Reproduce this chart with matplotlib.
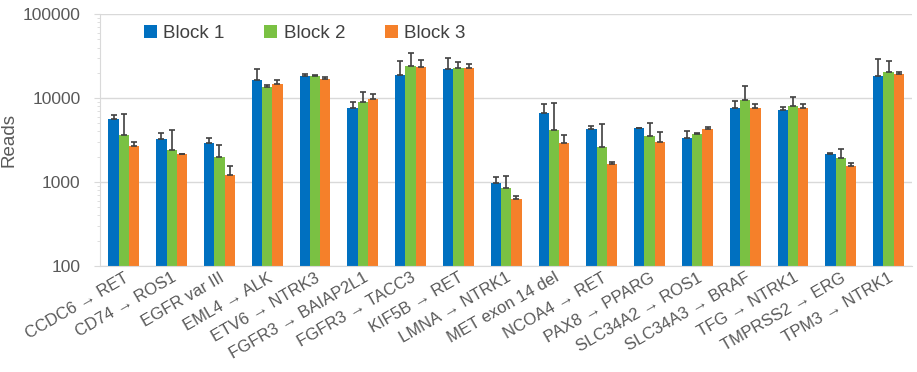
import numpy as np
import matplotlib
matplotlib.use("Agg")
import matplotlib.pyplot as plt

plt.rcParams['font.family'] = ['Liberation Sans', 'DejaVu Sans']

# fusion / variant names
categories = ['CCDC6 → RET', 'CD74 → ROS1', 'EGFR var III', 'EML4 → ALK', 'ETV6 → NTRK3',
              'FGFR3 → BAIAP2L1', 'FGFR3 → TACC3', 'KIF5B → RET', 'LMNA → NTRK1',
              'MET exon 14 del', 'NCOA4 → RET', 'PAX8 → PPARG', 'SLC34A2 → ROS1',
              'SLC34A3 → BRAF', 'TFG → NTRK1', 'TMPRSS2 → ERG', 'TPM3 → NTRK1']

block1 = [5570, 3220, 2890, 16500, 18280, 7670, 18620, 22130, 982, 6560, 4310, 4395, 3310, 7670, 7260, 2135, 18450]
block2 = [3600, 2425, 2000, 13650, 18450, 9040, 23840, 22960, 849, 4200, 2610, 3500, 3690, 9550, 8030, 1950, 20400]
block3 = [2680, 2135, 1220, 14680, 16680, 9730, 23180, 22760, 634, 2890, 1652, 2990, 4310, 7670, 7540, 1550, 19460]

# top of the error bars (upper whisker only)
block1_err_top = [6220, 3800, 3370, 22300, 19150, 8960, 27560, 29940, 1148, 8550, 4600, 4420, 4080, 9200, 7750, 2235, 29100]
block2_err_top = [6450, 4200, 2730, 14150, 18900, 11680, 34600, 26600, 1189, 8790, 4900, 5080, 3860, 13890, 10280, 2470, 27800]
block3_err_top = [2990, 2170, 1540, 16200, 17600, 11270, 28060, 25630, 675, 3630, 1730, 3940, 4560, 8420, 8550, 1670, 20220]

series = [('Block 1', block1, block1_err_top, '#0070C0'),
          ('Block 2', block2, block2_err_top, '#7AC143'),
          ('Block 3', block3, block3_err_top, '#F5802A')]

fig = plt.figure(figsize=(9.17, 3.72), dpi=100)
ax = fig.add_axes([0.109, 0.285, 0.886, 0.677])

x = np.arange(len(categories))
w = 0.215
for i, (name, vals, tops, col) in enumerate(series):
    vals = np.array(vals)
    up = np.array(tops) - vals
    ax.bar(x + (i - 1) * w, vals, w, color=col, label=name, zorder=2,
           yerr=[np.zeros_like(up), up], error_kw=dict(ecolor='#404040', elinewidth=1.2,
                                                        capsize=2.5, capthick=1.2, zorder=3))

ax.set_yscale('log')
ax.set_ylim(100, 100000)
ax.set_xlim(-0.5, len(categories) - 0.5)
ax.set_yticks([100, 1000, 10000, 100000])
ax.set_yticklabels(['100', '1000', '10000', '100000'])
ax.yaxis.grid(True, which='major', color='#D9D9D9', linewidth=1, zorder=0)
ax.set_axisbelow(True)

for s in ['top', 'right']:
    ax.spines[s].set_visible(False)
ax.spines['left'].set_color('#D9D9D9')
ax.spines['bottom'].set_color('#D9D9D9')
ax.tick_params(axis='y', which='major', length=4, color='#D9D9D9', labelsize=12.5,
               labelcolor='#595959', pad=10)
ax.tick_params(axis='y', which='minor', length=2, color='#D9D9D9')
ax.tick_params(axis='x', length=0, pad=3)

ax.set_xticks(x)
ax.set_xticklabels(categories, rotation=30, ha='right', rotation_mode='anchor',
                   fontsize=12, color='#595959')
ax.set_ylabel('Reads', fontsize=13.5, color='#595959')
ax.yaxis.set_label_coords(-0.102, 0.5)

ax.legend(loc='upper left', bbox_to_anchor=(0.033, 1.025), ncol=3, frameon=False,
          fontsize=13.5, handlelength=0.7, handleheight=0.7, handletextpad=0.35,
          columnspacing=2.1, labelcolor='#404040')

fig.savefig('out.png', dpi=100)
